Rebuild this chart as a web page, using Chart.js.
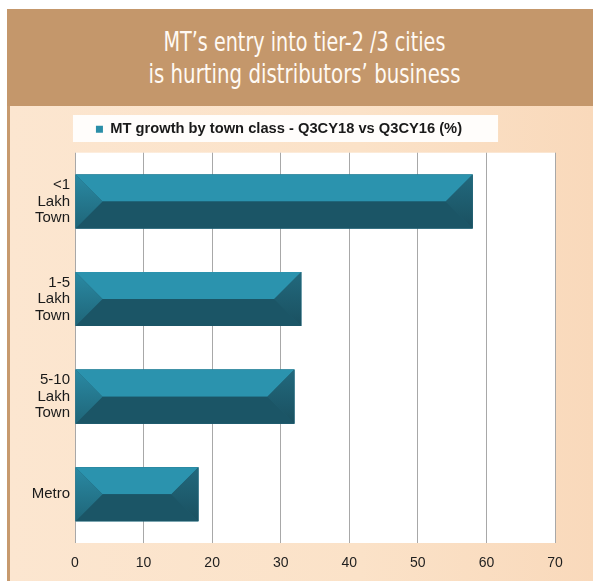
<!DOCTYPE html>
<html>
<head>
<meta charset="utf-8">
<script src="https://cdn.jsdelivr.net/npm/chart.js@4/dist/chart.umd.min.js"></script>
<style>
  html, body { margin:0; padding:0; }
  body { width:593px; height:581px; position:relative; overflow:hidden; background:#ffffff; }
  #banner { position:absolute; left:7px; top:9px; width:586px; height:97px; background:#c4976b; }
  .tl { position:absolute; left:0; width:594px; text-align:center; color:#fffaf4;
        font-family:"Liberation Sans Narrow","DejaVu Sans Condensed","Liberation Sans",sans-serif;
        font-size:27px; line-height:27px; white-space:nowrap; }
  .tl span { display:inline-block; transform-origin:50% 50%; }
  #panel { position:absolute; left:7px; top:106px; width:586px; height:475px; box-sizing:border-box;
           border-left:3px solid #c79a6e;
           background:linear-gradient(to right, #fce6d0 0%, #fbe2c8 60%, #f9d9bb 100%); }
  #wrap { position:absolute; left:0; top:106px; width:593px; height:475px; }
</style>
</head>
<body>
<div id="banner">
  <div class="tl" id="t1" style="top:19px"><span>MT’s entry into tier-2 /3 cities</span></div>
  <div class="tl" id="t2" style="top:51px"><span>is hurting distributors’ business</span></div>
</div>
<div id="panel"></div>
<div id="wrap"><canvas id="c" width="593" height="475"></canvas></div>
<script>
// ---- data ----
const categories = [['<1', 'Lakh', 'Town'], ['1-5', 'Lakh', 'Town'], ['5-10', 'Lakh', 'Town'], 'Metro'];
const growth = [58, 33, 32, 18];
const xTicks = [0, 10, 20, 30, 40, 50, 60, 70];
const seriesLabel = 'MT growth by town class - Q3CY18 vs Q3CY16 (%)';

// fit title lines to reference widths
[['t1', 282], ['t2', 312]].forEach(([id, w]) => {
  const sp = document.querySelector('#' + id + ' span');
  const cur = sp.getBoundingClientRect().width;
  if (cur > 0) sp.style.transform = 'scaleX(' + (w / cur) + ')';
});

Chart.defaults.font.family = "'Liberation Sans', Arial, sans-serif";

const legendGap = {
  id: 'legendGap',
  beforeLayout(chart) {
    const lg = chart.legend;
    if (lg && !lg._gapPatched) {
      const f = lg.fit.bind(lg);
      lg.fit = function () { f(); this.height += 6; };
      lg._gapPatched = true;
    }
  }
};

const backdrop = {
  id: 'backdrop',
  beforeDraw(chart) {
    const c = chart.ctx, a = chart.chartArea;
    c.save();
    c.fillStyle = '#ffffff';
    c.fillRect(a.left, a.top, a.right - a.left, a.bottom - a.top);
    const lg = chart.legend;
    if (lg && lg.legendHitBoxes && lg.legendHitBoxes.length) {
      const h = lg.legendHitBoxes[0];
      c.fillStyle = '#fffdfb';
      c.fillRect(h.left - 23, h.top - 7, h.width + 59, 27);
    }
    c.restore();
  }
};

const bevel = {
  id: 'bevel',
  afterDatasetsDraw(chart) {
    const c = chart.ctx;
    const meta = chart.getDatasetMeta(0);
    meta.data.forEach(el => {
      const p = el.getProps(['x', 'y', 'base', 'height'], true);
      const x0 = Math.min(p.base, p.x), x1 = Math.max(p.base, p.x);
      const y0 = p.y - p.height / 2, y1 = p.y + p.height / 2, ym = p.y;
      const b = Math.min(p.height / 2, (x1 - x0) / 2);
      const poly = (pts, fill) => {
        c.beginPath();
        c.moveTo(pts[0][0], pts[0][1]);
        for (let i = 1; i < pts.length; i++) c.lineTo(pts[i][0], pts[i][1]);
        c.closePath();
        c.fillStyle = fill;
        c.fill();
      };
      c.save();
      poly([[x0, y0], [x1, y0], [x1, y1], [x0, y1]], '#1d5d70');
      poly([[x0, y0], [x1, y0], [x1 - b, ym], [x0 + b, ym]], '#2b93ae');
      poly([[x0, y1], [x1, y1], [x1 - b, ym], [x0 + b, ym]], '#1b5566');
      const gL = c.createLinearGradient(0, y0, 0, y1);
      gL.addColorStop(0, '#2a8aa4');
      gL.addColorStop(1, '#1f6578');
      poly([[x0, y0], [x0 + b, ym], [x0, y1]], gL);
      const gR = c.createLinearGradient(0, y0, 0, y1);
      gR.addColorStop(0, '#22697d');
      gR.addColorStop(1, '#1a5060');
      poly([[x1, y0], [x1 - b, ym], [x1, y1]], gR);
      c.restore();
    });
  }
};

new Chart(document.getElementById('c'), {
  type: 'bar',
  data: {
    labels: categories,
    datasets: [{
      label: seriesLabel,
      data: growth,
      backgroundColor: '#2a8ea8',
      borderWidth: 0,
      barPercentage: 0.554,
      categoryPercentage: 1
    }]
  },
  options: {
    indexAxis: 'y',
    responsive: false,
    animation: false,
    layout: { padding: { left: 3, right: 38, top: 6, bottom: 0 } },
    plugins: {
      legend: {
        display: true,
        position: 'top',
        align: 'center',
        labels: {
          boxWidth: 7,
          boxHeight: 7,
          padding: 10,
          color: '#1a1a1a',
          font: { size: 14.7, weight: 'bold' }
        }
      },
      tooltip: { enabled: false }
    },
    scales: {
      x: {
        min: 0,
        max: 70,
        afterBuildTicks(s) { s.ticks = xTicks.map(v => ({ value: v })); },
        ticks: { padding: 12, color: '#1e1e1e', font: { size: 14 } },
        grid: { color: '#a8a8a8', lineWidth: 1, drawTicks: false },
        border: { display: false },
        afterFit(s) { s.height = 38; }
      },
      y: {
        ticks: { padding: 5, color: '#1a1a1a', font: { size: 15, lineHeight: 1.1 } },
        grid: { display: false, drawTicks: false },
        border: { display: false },
        afterFit(s) { s.width = 72; }
      }
    }
  },
  plugins: [legendGap, backdrop, bevel]
});
</script>
</body>
</html>
